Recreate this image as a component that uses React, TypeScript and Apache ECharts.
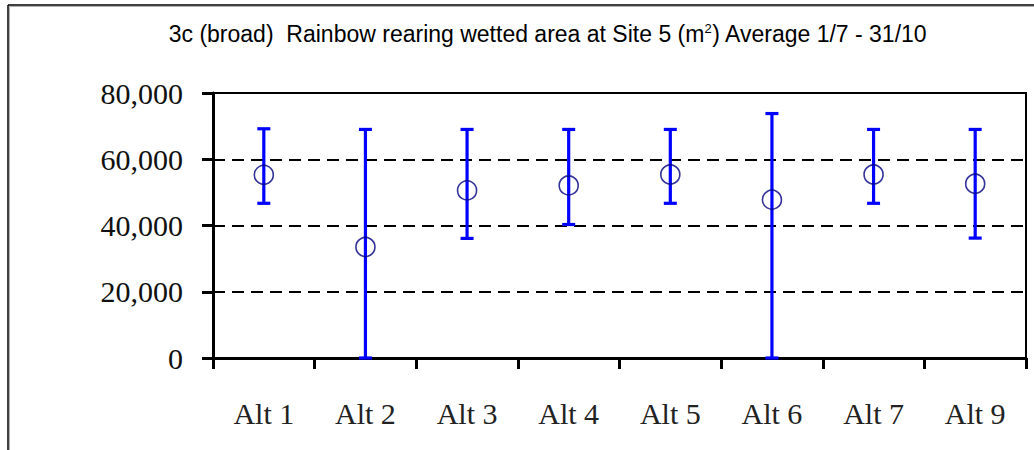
import React, { useEffect, useRef } from "react";
import * as echarts from "echarts";

const categories = ["Alt 1", "Alt 2", "Alt 3", "Alt 4", "Alt 5", "Alt 6", "Alt 7", "Alt 9"];
const averages = [55300, 33500, 50600, 52100, 55400, 47800, 55400, 52600];
const upper = [69200, 69000, 69000, 69000, 69000, 73800, 69000, 69000];
const lower = [46700, 0, 36100, 40300, 46700, 0, 46700, 36200];
const yTicks = [0, 20000, 40000, 60000, 80000];

const TITLE = "3c (broad)  Rainbow rearing wetted area at Site 5 (m{sup|2}) Average 1/7 - 31/10";

export default function App() {
  const ref = useRef<HTMLDivElement>(null);

  useEffect(() => {
    if (!ref.current) return;
    const chart = echarts.init(ref.current, null, { renderer: "svg" });

    const ranges = categories.map((_, i) => [i, lower[i], upper[i]]);

    chart.setOption({
      animation: false,
      backgroundColor: "#ffffff",
      title: {
        text: TITLE,
        left: 543,
        top: 17,
        textAlign: "center",
        textStyle: {
          fontFamily: "Liberation Sans",
          fontSize: 23,
          fontWeight: "normal",
          color: "#000000",
          rich: {
            sup: {
              fontFamily: "Liberation Sans",
              fontSize: 13,
              verticalAlign: "top",
              padding: [0, 0, 11, 0],
              color: "#000000",
            },
          },
        },
      },
      grid: {
        left: 213,
        right: 8,
        top: 93,
        bottom: 92,
        show: true,
        borderColor: "#000000",
        borderWidth: 2,
        backgroundColor: "transparent",
      },
      xAxis: {
        type: "category",
        data: categories,
        boundaryGap: true,
        axisLine: { show: true, lineStyle: { color: "#000000", width: 3 } },
        axisTick: { show: true, length: 11, lineStyle: { color: "#000000", width: 3 } },
        axisLabel: {
          margin: 40,
          fontFamily: "Liberation Serif",
          fontSize: 30,
          color: "#222222",
        },
        splitLine: { show: false },
      },
      yAxis: {
        type: "value",
        min: yTicks[0],
        max: yTicks[yTicks.length - 1],
        interval: 20000,
        axisLine: { show: true, lineStyle: { color: "#000000", width: 3 } },
        axisTick: { show: true, length: 11, lineStyle: { color: "#000000", width: 3 } },
        axisLabel: {
          margin: 30,
          fontFamily: "Liberation Serif",
          fontSize: 30,
          color: "#111111",
          formatter: (v: number) => v.toLocaleString("en-US"),
        },
        splitLine: {
          show: true,
          lineStyle: { color: "#000000", width: 2, type: [12, 7] },
        },
      },
      series: [
        {
          type: "custom",
          data: ranges,
          z: 2,
          renderItem: (params: any, api: any) => {
            const x = api.value(0);
            const lo = api.coord([x, api.value(1)]);
            const hi = api.coord([x, api.value(2)]);
            const half = 6.5;
            const style = { stroke: "#0000ff", lineWidth: 3.2 };
            return {
              type: "group",
              children: [
                { type: "line", shape: { x1: hi[0], y1: hi[1], x2: lo[0], y2: lo[1] }, style },
                { type: "line", shape: { x1: hi[0] - half, y1: hi[1], x2: hi[0] + half, y2: hi[1] }, style },
                { type: "line", shape: { x1: lo[0] - half, y1: lo[1], x2: lo[0] + half, y2: lo[1] }, style },
              ],
            };
          },
        },
        {
          type: "scatter",
          data: averages,
          z: 3,
          symbol: "circle",
          symbolSize: 19,
          itemStyle: { color: "rgba(0,0,0,0)", borderColor: "#000080", borderWidth: 1.6 },
        },
      ],
      graphic: [
        { type: "line", shape: { x1: 8, y1: 5, x2: 1034, y2: 5 }, style: { stroke: "#000000", lineWidth: 1.5 } },
        { type: "line", shape: { x1: 8, y1: 5, x2: 8, y2: 450 }, style: { stroke: "#000000", lineWidth: 1.5 } },
        { type: "line", shape: { x1: 9.5, y1: 6.5, x2: 1034, y2: 6.5 }, style: { stroke: "#b0b0b0", lineWidth: 1 } },
        { type: "line", shape: { x1: 9.5, y1: 6.5, x2: 9.5, y2: 450 }, style: { stroke: "#b0b0b0", lineWidth: 1 } },
      ],
    });

    return () => chart.dispose();
  }, []);

  return (
    <div
      ref={ref}
      style={{ position: "fixed", left: 0, top: 0, width: 1034, height: 450, background: "#ffffff" }}
    />
  );
}
